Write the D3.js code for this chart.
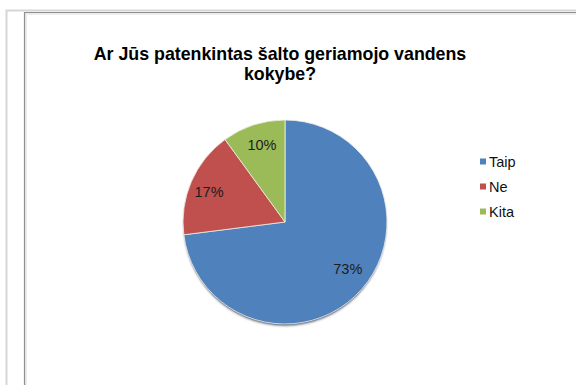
<!DOCTYPE html>
<html>
<head>
<meta charset="utf-8">
<script src="https://cdn.jsdelivr.net/npm/d3@7/dist/d3.min.js"></script>
<style>
  html, body { margin: 0; padding: 0; background: #fff; }
  svg { display: block; }
</style>
</head>
<body>
<svg id="chart" width="576" height="385"></svg>
<script>
// Survey answers and their shares (%)
const categories = ["Taip", "Ne", "Kita"];
const values = [73, 17, 10];
const colors = ["#4f81bd", "#c0504d", "#9bbb59"];
const titleLines = ["Ar Jūs patenkintas šalto geriamojo vandens", "kokybe?"];

const svg = d3.select("#chart");
const font = "'Liberation Sans', Arial, sans-serif";

// Page frame: outer sheet edge and the chart area border
svg.append("path")
  .attr("d", "M6.5,385 V10.5 H576")
  .attr("fill", "none").attr("stroke", "#d6d6d6").attr("stroke-width", 2);
svg.append("path")
  .attr("d", "M25.5,385 V13.5 H576")
  .attr("fill", "none").attr("stroke", "#ececec").attr("stroke-width", 3);
svg.append("path")
  .attr("d", "M24.5,385 V12.5 H576")
  .attr("fill", "none").attr("stroke", "#8f8f8f").attr("stroke-width", 1.2);

// Title
const titleX = 280;
const title = svg.append("text")
  .attr("x", titleX).attr("y", 60)
  .attr("text-anchor", "middle")
  .attr("font-family", font).attr("font-weight", "bold")
  .attr("font-size", 17.8).attr("fill", "#000");
titleLines.forEach((t, i) => {
  title.append("tspan").attr("x", titleX).attr("dy", i === 0 ? 0 : 19.5).text(t);
});

// Pie
const cx = 285, cy = 222, r = 102;
const defs = svg.append("defs");
const shadow = defs.append("filter").attr("id", "pieShadow")
  .attr("x", "-20%").attr("y", "-20%").attr("width", "140%").attr("height", "140%");
shadow.append("feDropShadow")
  .attr("dx", 0).attr("dy", 2.5).attr("stdDeviation", 1.2)
  .attr("flood-color", "#1a2a44").attr("flood-opacity", 0.85);

const pie = d3.pie().sort(null).value(d => d)(values);
const arc = d3.arc().innerRadius(0).outerRadius(r);
const g = svg.append("g").attr("transform", `translate(${cx},${cy})`);

g.append("circle").attr("r", r - 1).attr("fill", "#4f81bd")
  .attr("filter", "url(#pieShadow)");

g.selectAll("path.slice")
  .data(pie)
  .join("path")
  .attr("class", "slice")
  .attr("d", arc)
  .attr("fill", (d, i) => colors[i])
  .attr("stroke", "#f4f1e6")
  .attr("stroke-width", 0.8)
  .attr("stroke-linejoin", "round");

// Percentage labels: best-fit placement inside each slice
const labelRadius = [0.765, 0.80, 0.79];
const labelShift = [-5, -2, 1.4];   // degrees, nudge from slice mid-angle
g.selectAll("text.pct")
  .data(pie)
  .join("text")
  .attr("class", "pct")
  .attr("transform", (d, i) => {
    const a = (d.startAngle + d.endAngle) / 2 + labelShift[i] * Math.PI / 180;
    const rr = r * labelRadius[i];
    return `translate(${rr * Math.sin(a)},${-rr * Math.cos(a)})`;
  })
  .attr("text-anchor", "middle")
  .attr("dy", "0.36em")
  .attr("font-family", font)
  .attr("font-size", 14.5)
  .attr("fill", "#1c1c1c")
  .text(d => d.data + "%");

// Legend
const legend = svg.append("g").attr("transform", "translate(480,161.5)");
const items = legend.selectAll("g")
  .data(categories)
  .join("g")
  .attr("transform", (d, i) => `translate(0,${i * 25})`);
items.append("rect")
  .attr("x", 0).attr("y", -3).attr("width", 6).attr("height", 6)
  .attr("fill", (d, i) => colors[i]);
items.append("text")
  .attr("x", 9).attr("y", 0).attr("dy", "0.36em")
  .attr("font-family", font).attr("font-size", 14.5)
  .attr("fill", "#111")
  .text(d => d);
</script>
</body>
</html>
